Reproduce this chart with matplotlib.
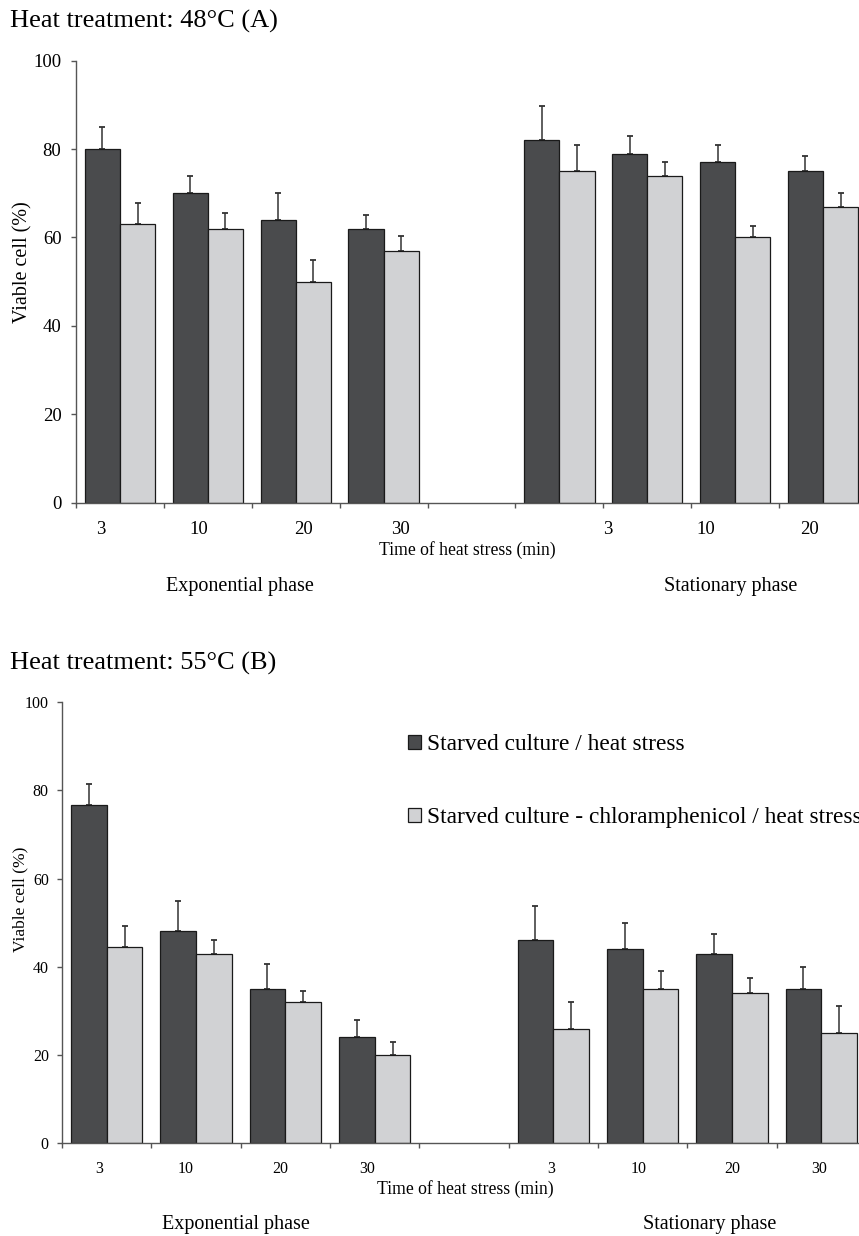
import numpy as np
import matplotlib
matplotlib.use('Agg')
from matplotlib import pyplot as plt

plt.rcParams['font.family'] = ['Liberation Serif', 'DejaVu Serif']

# category slots 0-3 = exponential phase, 5-8 = stationary phase (slot 4 left empty)
slots = [0, 1, 2, 3, 5, 6, 7, 8]

# 48 C panel
a_heat = [80, 70, 64, 62, 82, 79, 77, 75]
a_heat_err = [5, 4, 6, 3, 7.8, 4, 4, 3.5]
a_chl = [63, 62, 50, 57, 75, 74, 60, 67]
a_chl_err = [4.7, 3.5, 5, 3.4, 6, 3, 2.5, 3]
a_ticklabels = ['3', '10', '20', '30', '3', '10', '20']

# 55 C panel
b_heat = [76.6, 48, 35, 24, 46, 44, 43, 35]
b_heat_err = [4.9, 7, 5.6, 4, 7.8, 6, 4.4, 5]
b_chl = [44.4, 43, 32, 20, 26, 35, 34, 25]
b_chl_err = [4.8, 3, 2.4, 3, 6, 4, 3.5, 6]
b_ticklabels = ['3', '10', '20', '30', '3', '10', '20', '30']

series_names = ['Starved culture / heat stress',
                'Starved culture - chloramphenicol / heat stress']

W, H = 859, 1236
DARK = '#4a4b4d'
LIGHT = '#d1d2d4'
AXC = '#555555'


def fx(x):
    return x / W


def fy(y):
    return 1 - y / H


def draw_panel(ax, heat, heat_err, chl, chl_err, lab_pos, labels, fs_tick, pad):
    x = np.array(slots, dtype=float)
    w = 0.40
    b1 = ax.bar(x - w / 2, heat, w, color=DARK, edgecolor='#1a1a1a', linewidth=0.9,
                zorder=2, label=series_names[0])
    b2 = ax.bar(x + w / 2, chl, w, color=LIGHT, edgecolor='#1a1a1a', linewidth=0.9,
                zorder=2, label=series_names[1])
    zeros = np.zeros(len(x))
    ax.errorbar(x - w / 2, heat, yerr=[zeros, heat_err], fmt='none', ecolor='#333333',
                elinewidth=1.1, capsize=2, capthick=1.3, zorder=1)
    ax.errorbar(x + w / 2, chl, yerr=[zeros, chl_err], fmt='none', ecolor='#333333',
                elinewidth=1.1, capsize=2, capthick=1.3, zorder=1)

    ax.set_xlim(-0.5, 8.5)
    ax.set_ylim(0, 100)
    for s in ['top', 'right']:
        ax.spines[s].set_visible(False)
    for s in ['left', 'bottom']:
        ax.spines[s].set_color(AXC)
        ax.spines[s].set_linewidth(1.0)
    ax.set_yticks(np.arange(0, 101, 20))
    ax.tick_params(axis='y', direction='out', length=3.5, width=1, color=AXC,
                   labelsize=fs_tick, pad=pad)
    ax.set_xticks(lab_pos)
    ax.set_xticklabels(labels)
    ax.set_xticks(np.arange(-0.5, 9.0, 1.0), minor=True)
    ax.tick_params(axis='x', which='major', length=0, labelsize=fs_tick, pad=13)
    ax.tick_params(axis='x', which='minor', direction='out', length=3.5, width=1, color=AXC)
    return b1, b2


fig = plt.figure(figsize=(W / 100, H / 100), dpi=100)

# top panel (A)
ax1 = fig.add_axes([fx(76), fy(502.7), 791 / W, 442 / H])
draw_panel(ax1, a_heat, a_heat_err, a_chl, a_chl_err,
           [-0.216, 0.898, 2.09, 3.19, 5.545, 6.66, 7.85], a_ticklabels, 13.5, 7)

# bottom panel (B)
ax2 = fig.add_axes([fx(62), fy(1143.3), 804 / W, 441.3 / H])
bars = draw_panel(ax2, b_heat, b_heat_err, b_chl, b_chl_err,
                  [-0.086, 0.889, 1.94, 2.915, 4.976, 5.95, 7.0, 7.98], b_ticklabels, 11.5, 6)

fig.text(fx(10), fy(28), 'Heat treatment: 48°C (A)', fontsize=19, ha='left', va='baseline')
fig.text(fx(10), fy(670), 'Heat treatment: 55°C (B)', fontsize=19, ha='left', va='baseline')

fig.text(fx(23), fy(262), 'Viable cell (%)', fontsize=14.5, rotation=90, ha='center', va='center')
fig.text(fx(20), fy(899), 'Viable cell (%)', fontsize=12.5, rotation=90, ha='center', va='center')

fig.text(fx(467), fy(550), 'Time of heat stress (min)', fontsize=12.7, ha='center', va='center')
fig.text(fx(465), fy(1189), 'Time of heat stress (min)', fontsize=12.7, ha='center', va='center')

fig.text(fx(240), fy(586), 'Exponential phase', fontsize=14.5, ha='center', va='center')
fig.text(fx(731), fy(586), 'Stationary phase', fontsize=14.5, ha='center', va='center')
fig.text(fx(236), fy(1225), 'Exponential phase', fontsize=14.5, ha='center', va='center')
fig.text(fx(710), fy(1225), 'Stationary phase', fontsize=14.5, ha='center', va='center')

fig.legend(handles=list(bars), loc='upper left', bbox_to_anchor=(fx(408), fy(734)),
           frameon=False, fontsize=16.8, handlelength=0.55, handleheight=0.55,
           handletextpad=0.25, labelspacing=2.25, borderpad=0, borderaxespad=0)

fig.savefig('out.png', dpi=100)
